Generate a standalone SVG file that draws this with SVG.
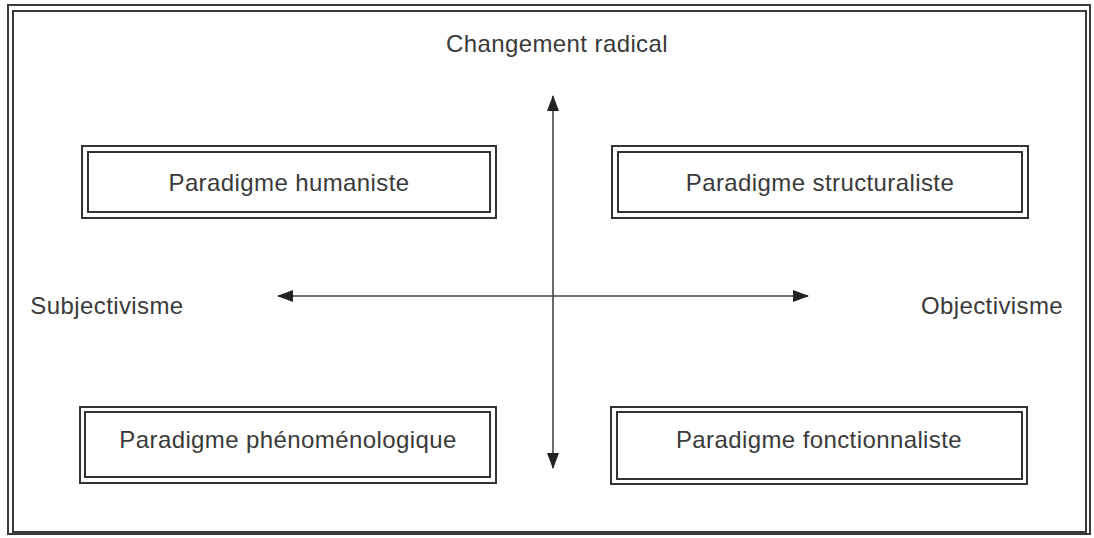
<svg xmlns="http://www.w3.org/2000/svg" width="1094" height="538" viewBox="0 0 1094 538">
<style>
.frame{fill:none;stroke:#3a3a3a;stroke-width:2}
.box{fill:#fff;stroke:#333;stroke-width:2}
.inner{fill:none;stroke:#333;stroke-width:2}
.lbl{font-family:"Liberation Sans",Arial,sans-serif;font-size:24px;letter-spacing:0.4px;fill:#3a3a3a;text-anchor:middle}
.axis{stroke:#444;stroke-width:1.6;fill:none}
</style>
<defs>
<marker id="ah2" viewBox="0 0 16 12" refX="15" refY="6" markerWidth="16" markerHeight="12" markerUnits="userSpaceOnUse" orient="auto-start-reverse">
<path d="M0,0 L16,6 L0,12 z" fill="#222"/>
</marker>
</defs>
<rect width="1094" height="538" fill="#fff"/>
<g id="frame">
<rect class="frame" x="8" y="5" width="1082" height="529"/>
<rect class="frame" x="13" y="11" width="1073" height="521" stroke-width="1.5"/>
</g>
<g id="connectors">
<line class="axis" x1="553" y1="468" x2="553" y2="96" marker-start="url(#ah2)" marker-end="url(#ah2)"/>
<line class="axis" x1="278" y1="296" x2="808" y2="296" marker-start="url(#ah2)" marker-end="url(#ah2)"/>
</g>
<g id="title"><text class="lbl" x="557" y="52">Changement radical</text></g>
<g id="subjectivisme"><text class="lbl" x="107" y="314">Subjectivisme</text></g>
<g id="objectivisme"><text class="lbl" x="992" y="314">Objectivisme</text></g>
<g id="humaniste">
<rect class="box" x="82" y="146" width="414" height="72"/>
<rect class="inner" x="88" y="152" width="402" height="60"/>
<text class="lbl" x="289" y="191">Paradigme humaniste</text>
</g>
<g id="structuraliste">
<rect class="box" x="612" y="146" width="416" height="72"/>
<rect class="inner" x="618" y="152" width="404" height="60"/>
<text class="lbl" x="820" y="191">Paradigme structuraliste</text>
</g>
<g id="phenomenologique">
<rect class="box" x="80" y="407" width="416" height="76"/>
<rect class="inner" x="85" y="412" width="405" height="65"/>
<text class="lbl" x="288" y="448">Paradigme phénoménologique</text>
</g>
<g id="fonctionnaliste">
<rect class="box" x="611" y="407" width="416" height="77"/>
<rect class="inner" x="617" y="412" width="405" height="67"/>
<text class="lbl" x="819" y="448">Paradigme fonctionnaliste</text>
</g>
</svg>
